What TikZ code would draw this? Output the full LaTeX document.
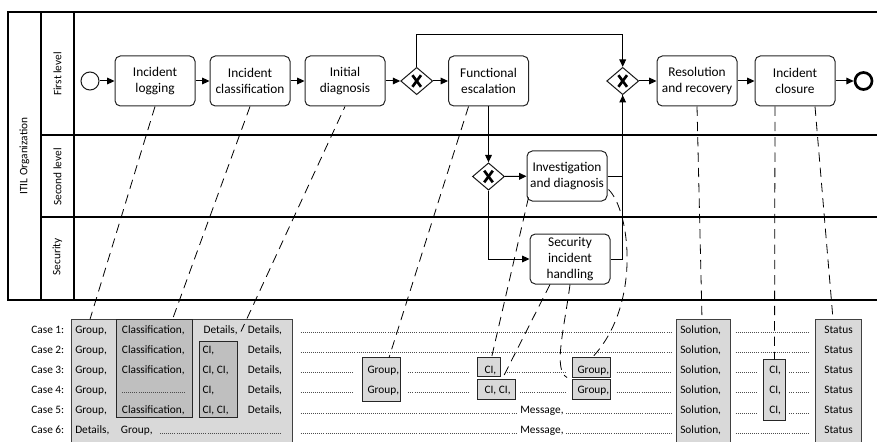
\documentclass[tikz,border=0pt]{standalone}
\usepackage{fontspec}
\setmainfont{Carlito}
\usetikzlibrary{arrows.meta,shapes.geometric,calc,fit}
\definecolor{lightfill}{HTML}{D9D9D9}
\definecolor{darkfill}{HTML}{BFBFBF}
\definecolor{edgegray}{HTML}{404040}
\definecolor{dotgray}{HTML}{4D4D4D}
\begin{document}
\begin{tikzpicture}[x=0.75pt,y=-0.75pt,
  task/.style={draw=black!85, line width=0.75pt, rounded corners=4pt, minimum width=60pt, minimum height=37.5pt, align=center, inner sep=0pt, font=\fontsize{10}{12}\selectfont},
  gate/.style={draw=black!90, diamond, line width=0.75pt, minimum width=24pt, minimum height=20.5pt, inner sep=0pt},
  xmark/.style={line width=2pt},
  flow/.style={line width=0.75pt, -{Triangle[length=5.5pt,width=5pt]}},
  plain/.style={line width=0.75pt},
  assoc/.style={line width=0.6pt, dash pattern=on 7pt off 4.5pt},
  lane/.style={line width=0.9pt},
  lanelabel/.style={rotate=90, inner sep=0pt, font=\fontsize{8.5}{10}\selectfont},
  cell/.style={anchor=base west, inner sep=0pt, font=\fontsize{8.5}{10}\selectfont},
  casel/.style={anchor=base east, inner sep=0pt, font=\fontsize{8.5}{10}\selectfont},
  leader/.style={line width=0.45pt, dotgray, dash pattern=on 0.45pt off 1.1pt},
  bigbox/.style={draw=edgegray, fill=lightfill, line width=0.6pt, inner sep=0pt},
  darkbox/.style={draw=black!85, fill=darkfill, line width=0.6pt, inner sep=0pt},
  smallbox/.style={draw=black!85, fill=lightfill, line width=0.6pt, inner sep=0pt},
]
\useasboundingbox (0,0) rectangle (877,442);

% ---------- pool and lanes ----------
\draw[lane] (877,12) -- (8,12) -- (8,300) -- (877,300);
\draw[lane] (41,12) -- (41,300);
\draw[lane] (74,12) -- (74,300);
\draw[lane] (41,135) -- (877,135);
\draw[lane] (41,217) -- (877,217);
\node[lanelabel] (pool) at (24.5,156) {ITIL Organization};
\node[lanelabel] (lane1) at (57.5,74) {First level};
\node[lanelabel] (lane2) at (57.5,177) {Second level};
\node[lanelabel] (lane3) at (57.5,257) {Security};

% ---------- process ----------
\node[draw=black!90, circle, minimum size=13.5pt, inner sep=0pt, line width=0.75pt] (start) at (90,81) {};
\node[task] (log) at (155,81) {Incident\\logging};
\node[task] (cls) at (250,81) {Incident\\classification};
\node[task] (diag) at (345,81) {Initial\\diagnosis};
\node[gate] (g1) at (416.7,81) {};
\node[task] (esc) at (488.5,81) {Functional\\escalation};
\node[gate] (g2) at (622.7,81) {};
\node[task] (res) at (697,81) {Resolution\\and recovery};
\node[task] (clo) at (795,81) {Incident\\closure};
\node[draw=black, circle, minimum size=12.75pt, inner sep=0pt, line width=2pt] (end) at (863.5,81) {};
\node[gate] (g3) at (488.5,176.5) {};
\node[task] (inv) at (567,176) {Investigation\\and diagnosis};
\node[task] (sih) at (570,259) {Security\\incident\\handling};

\foreach \g in {g1,g2,g3}{
  \draw[xmark] ($(\g)+(-4.3,-5.8)$) -- ($(\g)+(4.3,5.8)$);
  \draw[xmark] ($(\g)+(-4.3,5.8)$) -- ($(\g)+(4.3,-5.8)$);
}

\coordinate (loop) at (520,34.3);
\draw[flow] (start) -- (log);
\draw[flow] (log) -- (cls);
\draw[flow] (cls) -- (diag);
\draw[flow] (diag) -- (g1);
\draw[flow] (g1) -- (esc);
\draw[flow] (g1.north) |- (loop) -| (g2.north);
\draw[flow] (g2) -- (res);
\draw[flow] (res) -- (clo);
\draw[flow] (clo) -- (end);
\draw[flow] (esc.south) -- (g3.north);
\draw[flow] (g3) -- (inv);
\draw[flow] (g3.south) |- (sih.west);
\draw[plain] (sih.east) -| (g2.south);
\draw[flow] (inv.east) -| (g2.south);

% ---------- table boxes ----------
\node[bigbox, fit={(71.7,319.3) (292.7,447)}] (tblA) {};
\node[darkbox, fit={(116,319.3) (192.7,417.7)}] (clsbox) {};
\node[darkbox, fit={(199.3,341.7) (237.3,417.7)}] (cibox) {};
\node[smallbox, fit={(362.3,357.7) (400.7,401.7)}] (grpmid) {};
\node[smallbox, fit={(477.3,357.7) (500,376.7)}] (ci3) {};
\node[smallbox, fit={(477.3,379.3) (515.7,399.3)}] (ci4) {};
\node[smallbox, fit={(572.3,357.7) (610.7,377)}] (grp3) {};
\node[smallbox, fit={(572.3,379.3) (610.7,399.3)}] (grp4) {};
\node[bigbox, fit={(676.7,319.3) (730.7,447)}] (solbox) {};
\node[smallbox, fit={(763.3,359.3) (785,420)}] (cir) {};
\node[bigbox, fit={(815.3,319.3) (861.7,447)}] (statbox) {};

% ---------- table texts ----------
\foreach \i/\b in {1/333,2/353,3/373,4/393.2,5/413.3,6/433.3}{
  \node[casel] (case\i) at (64.5,\b) {Case \i:};
  \node[cell] (sol\i) at (680,\b) {Solution,};
  \node[cell, anchor=base] (stat\i) at (838.5,\b) {Status};
}
\foreach \i/\b in {1/333,2/353,3/373,4/393.2,5/413.3}{
  \node[cell] (grp\i) at (75,\b) {Group,};
}
\foreach \i/\b in {1/333,2/353,3/373,5/413.3}{
  \node[cell] (cl\i) at (121.7,\b) {Classification,};
}
\draw[leader] (122,392.7) -- (185.7,392.7);
\node[cell] (det1a) at (203.3,333) {Details,};
\node[cell] (det1b) at (247.7,333) {Details,};
\foreach \i/\b in {2/353,3/373,4/393.2,5/413.3}{
  \node[cell] (det\i) at (247.7,\b) {Details,};
}
\node[cell] (ci2) at (202.3,353) {CI,};
\node[cell] (ci3t) at (202.3,373) {CI, CI,};
\node[cell] (ci4t) at (202.3,393.2) {CI,};
\node[cell] (ci5t) at (202.3,413.3) {CI, CI,};
\node[cell] (det6) at (75,433.3) {Details,};
\node[cell] (grp6) at (120.7,433.3) {Group,};
\draw[leader] (160,432.8) -- (281.7,432.8);

% middle
\foreach \b in {332.5,352.5}{
  \draw[leader] (300.7,\b) -- (671.7,\b);
}
\foreach \b in {372.5,392.7}{
  \draw[leader] (300.7,\b) -- (353.3,\b);
  \draw[leader] (408.3,\b) -- (468.3,\b);
  \draw[leader] (616.7,\b) -- (671.7,\b);
}
\draw[leader] (505,372.5) -- (566.7,372.5);
\draw[leader] (520,392.7) -- (566.7,392.7);
\node[cell] (mg3) at (367.3,373) {Group,};
\node[cell] (mg4) at (367.3,393.2) {Group,};
\node[cell] (mc3) at (484.3,373) {CI,};
\node[cell] (mc4) at (484.3,393.2) {CI, CI,};
\node[cell] (rg3) at (577.3,373) {Group,};
\node[cell] (rg4) at (577.3,393.2) {Group,};
\foreach \i/\b in {5/413.3,6/433.3}{
  \draw[leader] (300.7,\b-0.5) -- (517.5,\b-0.5);
  \node[cell] (msg\i) at (520,\b) {Message,};
  \draw[leader] (566,\b-0.5) -- (671.7,\b-0.5);
}

% right
\foreach \b in {332.5,352.5,432.8}{
  \draw[leader] (735.7,\b) -- (808.7,\b);
}
\foreach \i/\b in {3/373,4/393.2,5/413.3}{
  \draw[leader] (735.7,\b-0.5) -- (757.7,\b-0.5);
  \node[cell] (rci\i) at (769,\b) {CI,};
  \draw[leader] (789.3,\b-0.5) -- (809.3,\b-0.5);
}

% ---------- associations ----------
\coordinate (e1) at (90,319.3);
\coordinate (e2) at (172.5,319.3);
\coordinate (e3) at (241,331.5);
\coordinate (e4) at (389,357.7);
\coordinate (e5) at (491.5,357.7);
\coordinate (e6) at (502,379.3);
\coordinate (e7) at (567,377.5);
\coordinate (e8) at (592,357.7);
\coordinate (e9) at (702,319.3);
\coordinate (e10) at (774.5,359.3);
\coordinate (e11) at (833,319.3);
\draw[assoc] (log.south) -- (e1);
\draw[assoc] (cls.south) -- (e2);
\draw[assoc, dash phase=4.3pt] (diag.south) -- (e3);
\draw[assoc] ($(esc.south)+(-20,0)$) -- (e4);
\draw[assoc] ($(inv.south west)+(2,-4)$) -- (e5);
\draw[assoc] ($(sih.south)+(-20,0)$) -- (e6);
\draw[assoc] (sih.south) .. controls (564,330) and (553,370) .. (e7);
\draw[assoc] ($(inv.south east)+(1,-12)$) .. controls (630,210) and (642,305) .. (e8);
\draw[assoc] (res.south) -- (e9);
\draw[assoc] ($(clo.south)+(-20,0)$) -- (e10);
\draw[assoc] ($(clo.south)+(20,0)$) -- (e11);
\end{tikzpicture}
\end{document}
